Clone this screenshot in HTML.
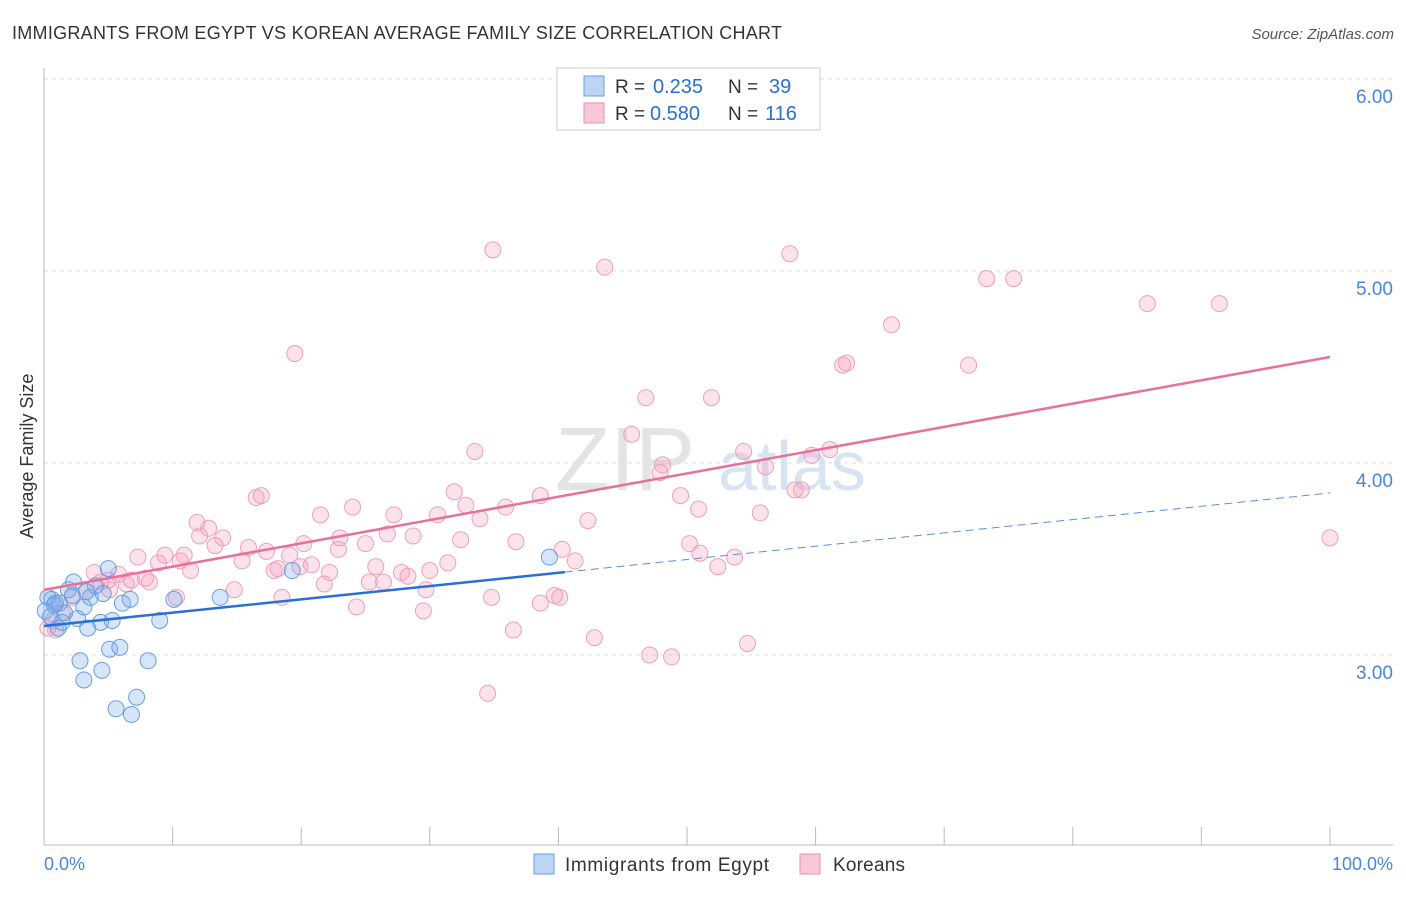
<!DOCTYPE html>
<html><head><meta charset="utf-8"><style>
body{margin:0;background:#fff;font-family:"Liberation Sans",sans-serif;}
svg text{font-family:"Liberation Sans",sans-serif;}
</style></head><body>
<svg id="chart" width="1406" height="892">
<text x="12" y="39" font-size="18" fill="#333" textLength="770">IMMIGRANTS FROM EGYPT VS KOREAN AVERAGE FAMILY SIZE CORRELATION CHART</text>
<text x="1394" y="39" font-size="15" fill="#555" text-anchor="end" font-style="italic">Source: ZipAtlas.com</text>
<text x="33" y="456" font-size="18" fill="#333" text-anchor="middle" transform="rotate(-90 33 456)">Average Family Size</text>
<text x="555" y="490" font-size="90" fill="#e4e4e4" font-family="Liberation Serif">ZIP</text>
<text x="718" y="490" font-size="70" fill="#d6e4f4">atlas</text>
<g id="grid"></g><g id="axes"></g><g id="pts"></g><g id="lines"></g>
<g>
<rect x="557" y="68" width="263" height="62" fill="#fff" stroke="#ccc"/>
<rect x="584" y="76" width="20" height="20" fill="#bcd5f5" stroke="#6a9ee0"/>
<rect x="584" y="103" width="20" height="20" fill="#f9c8d8" stroke="#e891b0"/>
<text x="615" y="93" font-size="19" fill="#333">R =</text>
<text x="653" y="93" font-size="20" fill="#2a6fd6">0.235</text>
<text x="728" y="93" font-size="19" fill="#333">N =</text>
<text x="769" y="93" font-size="20" fill="#2a6fd6">39</text>
<text x="615" y="120" font-size="19" fill="#333">R =</text>
<text x="650" y="120" font-size="20" fill="#2a6fd6">0.580</text>
<text x="728" y="120" font-size="19" fill="#333">N =</text>
<text x="765" y="120" font-size="20" fill="#2a6fd6">116</text>
</g>
<g>
<rect x="534" y="854" width="20" height="20" fill="#bcd5f5" stroke="#6a9ee0"/>
<text x="565" y="871" font-size="19" fill="#333" textLength="204">Immigrants from Egypt</text>
<rect x="800" y="854" width="20" height="20" fill="#f9c8d8" stroke="#e891b0"/>
<text x="833" y="871" font-size="19" fill="#333" textLength="72">Koreans</text>
</g>
<text x="44" y="870" font-size="18" fill="#4a86d8">0.0%</text>
<text x="1393" y="870" font-size="18" fill="#4a86d8" text-anchor="end">100.0%</text>
</svg>
<script>
const yTicks=[3,4,5,6];
const yTickLabels=["3.00","4.00","5.00","6.00"];
const egyptX=[0.3,0.6,0.9,0.1,0.5,1.1,1.9,2.3,2.6,3.1,3.4,3.6,4.0,4.4,4.6,5.0,5.3,2.8,3.1,4.5,5.1,5.9,6.1,6.7,5.6,6.8,7.2,8.1,9.0,10.1,13.7,19.3,39.3,1.2,1.6,2.2,3.3,0.8,1.4];
const egyptY=[3.30,3.29,3.27,3.23,3.20,3.14,3.34,3.38,3.19,3.25,3.14,3.30,3.36,3.17,3.32,3.45,3.18,2.97,2.87,2.92,3.03,3.04,3.27,3.29,2.72,2.69,2.78,2.97,3.18,3.29,3.30,3.44,3.51,3.27,3.22,3.31,3.33,3.26,3.17];
const koreaX=[34.9,43.6,58.0,73.3,75.4,85.8,91.4,65.9,19.5,62.1,62.4,71.9,46.8,51.9,45.7,33.5,54.4,61.1,59.7,48.1,47.9,56.1,16.5,16.9,24.0,31.9,32.8,38.6,49.5,58.4,58.9,21.5,27.2,30.6,33.9,35.9,42.3,50.9,55.7,11.9,12.8,12.1,13.9,13.3,15.9,17.3,19.1,20.2,23.0,22.9,25.0,26.7,28.7,32.4,36.7,40.3,41.3,50.2,51.0,53.7,52.4,100,7.3,8.9,9.4,10.6,10.9,11.4,15.4,18.2,19.9,20.8,22.2,25.8,27.8,30.0,31.4,17.9,14.8,18.5,21.8,25.3,26.4,28.3,29.7,10.3,3.9,5.8,6.4,6.8,7.9,8.2,5.0,4.4,3.3,5.1,2.2,1.4,0.7,0.3,0.9,24.3,29.5,34.8,38.6,39.7,40.1,36.5,42.8,47.1,48.8,54.7,34.5];
const koreaY=[5.11,5.02,5.09,4.96,4.96,4.83,4.83,4.72,4.57,4.51,4.52,4.51,4.34,4.34,4.15,4.06,4.06,4.07,4.04,3.99,3.95,3.98,3.82,3.83,3.77,3.85,3.78,3.83,3.83,3.86,3.86,3.73,3.73,3.73,3.71,3.77,3.70,3.76,3.74,3.69,3.66,3.62,3.61,3.57,3.56,3.54,3.52,3.58,3.61,3.55,3.58,3.63,3.62,3.60,3.59,3.55,3.49,3.58,3.53,3.51,3.46,3.61,3.51,3.48,3.52,3.49,3.52,3.44,3.49,3.45,3.46,3.47,3.43,3.46,3.43,3.44,3.48,3.44,3.34,3.30,3.37,3.38,3.38,3.41,3.34,3.30,3.43,3.42,3.37,3.39,3.40,3.38,3.39,3.38,3.33,3.34,3.30,3.22,3.18,3.14,3.13,3.25,3.23,3.30,3.27,3.31,3.30,3.13,3.09,3.00,2.99,3.06,2.80];
const egyptTrend=[3.151,3.844];
const koreaTrend=[3.339,4.552];
const egyptSolidEnd=40.5;

const NS="http://www.w3.org/2000/svg";
const X=v=>44+v*12.86;
const Y=v=>655-(v-3)*192;
function mk(tag,attrs,parent){const e=document.createElementNS(NS,tag);for(const k in attrs)e.setAttribute(k,attrs[k]);document.getElementById(parent).appendChild(e);return e;}
yTicks.forEach((t,i)=>{
  const l=mk('line',{x1:44,x2:1393,y1:Y(t),y2:Y(t),stroke:'#ddd','stroke-dasharray':'4,4'},'grid');
  
  
  const tx=mk('text',{x:1393,y:Y(t)+24,'font-size':19,fill:'#4a86d8','text-anchor':'end'},'grid');
  tx.textContent=yTickLabels[i];
  
  
});
let a=mk('line',{x1:44,x2:44,y1:68,y2:845,stroke:'#bbb'},'axes');


a=mk('line',{x1:44,x2:1393,y1:845,y2:845,stroke:'#bbb'},'axes');


for(let i=0;i<=10;i++){
  const t=mk('line',{x1:X(i*10),x2:X(i*10),y1:827,y2:845,stroke:'#bbb'},'axes');
  
  
}
koreaX.forEach((v,i)=>{
  const c=mk('circle',{cx:X(v),cy:Y(koreaY[i]),r:8,fill:'rgba(244,160,188,0.3)',stroke:'#eba0ba','stroke-width':1},'pts');
  
  
});
egyptX.forEach((v,i)=>{
  const c=mk('circle',{cx:X(v),cy:Y(egyptY[i]),r:8,fill:'rgba(120,170,235,0.3)',stroke:'#6a9ee0','stroke-width':1},'pts');
  
  
});
const ey=x=>egyptTrend[0]+(egyptTrend[1]-egyptTrend[0])*x/100;
let ln=mk('line',{x1:X(0),y1:Y(ey(0)),x2:X(egyptSolidEnd),y2:Y(ey(egyptSolidEnd)),stroke:'#2a6fd6','stroke-width':2.5},'lines');


ln=mk('line',{x1:X(egyptSolidEnd),y1:Y(ey(egyptSolidEnd)),x2:X(100),y2:Y(ey(100)),stroke:'#5b8fd9','stroke-width':1,'stroke-dasharray':'8,5'},'lines');


ln=mk('line',{x1:X(0),y1:Y(koreaTrend[0]),x2:X(100),y2:Y(koreaTrend[1]),stroke:'#e8709a','stroke-width':2.5},'lines');


</script>
</body></html>
